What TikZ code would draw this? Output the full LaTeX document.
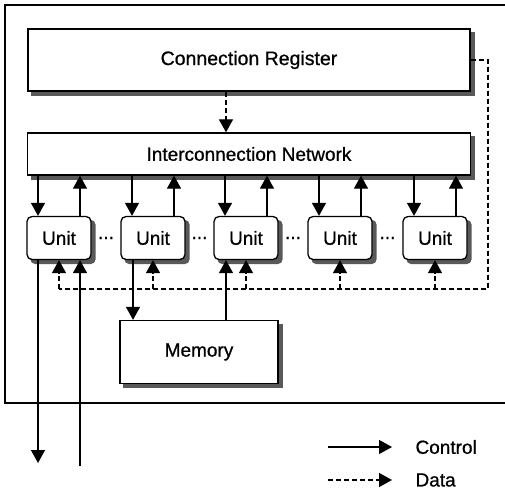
\documentclass[tikz,border=0pt]{standalone}
\usepackage{fontspec}
\setmainfont{Liberation Sans}[FakeBold=0.8]
\usepackage{tikz}
\usetikzlibrary{arrows.meta,backgrounds,calc,positioning}
\tikzstyle{box}  =[draw, line width=1.3pt, fill=white, inner sep=0pt]
\tikzstyle{unit} =[box, rounded corners=5pt, minimum width=64pt,
                   minimum height=43pt]
\tikzstyle{shade}=[fill=black!65]
\tikzstyle{ctrl} =[line width=1.3pt, -{Triangle[length=13pt,width=14pt]}]
\tikzstyle{data} =[ctrl, dash pattern=on 5pt off 3pt]
\tikzstyle{bus}  =[line width=1.3pt, dash pattern=on 5pt off 3pt]

\begin{document}
\begin{tikzpicture}[x=1pt,y=-1pt,font=\fontsize{19}{22}\selectfont]
    \useasboundingbox (0,0) rectangle (505,489);
    \draw [line width=1.3pt] (505,5) -- (5,5) -- (5,403) -- (505,403);

    \draw (249,60) node (cr) [box,minimum width=442pt,minimum height=62pt] {\fontsize{19.5}{22}\selectfont Connection Register};
    \draw (249,154) node (in) [box,minimum width=443pt,minimum height=42pt] {Interconnection Network};
    \draw (199,352) node (mem) [box,minimum width=158pt,minimum height=63pt] {Memory};

    \foreach \i/\x in {1/59,2/153,3/246,4/340,5/435}
        \draw (\x,238) node (u\i) [unit] {Unit};
    \foreach \i/\j in {1/2,2/3,3/4,4/5}
        \node (dots\i) at ($(u\i.east)!0.5!(u\j.west)$) {...};

    \begin{pgfonlayer}{background}
        \foreach \n in {cr,in,mem}
            \fill [shade] ([shift={(4pt,-4pt)}]\n.south west) rectangle ([shift={(4pt,-4pt)}]\n.north east);
        \foreach \i in {1,...,5}
            \fill [shade,rounded corners=5pt] ([shift={(4pt,-4pt)}]u\i.south west) rectangle ([shift={(4pt,-4pt)}]u\i.north east);
    \end{pgfonlayer}

    \draw [data] ([xshift=-23pt]cr.south) -- ([xshift=-23pt]cr.south |- in.north);

    \foreach \i in {1,...,5} {
        \draw [ctrl] ([xshift=-21pt]u\i.north |- in.south) -- ([xshift=-21pt]u\i.north);
        \draw [ctrl] ([xshift=21pt]u\i.north) -- ([xshift=21pt]u\i.north |- in.south);
    }

    \coordinate (busr) at (488,289);
    \draw [bus] (cr.east) -| (busr) -- (u1 |- busr);
    \foreach \i in {1,...,5}
        \draw [data] (u\i |- busr) -- (u\i.south);

    \draw [ctrl] ([xshift=-20pt]u2.south) -- ([xshift=-20pt]u2.south |- mem.north);
    \draw [ctrl] ([xshift=-20pt]u3.south |- mem.north) -- ([xshift=-20pt]u3.south);

    \coordinate (xout) at (38,463);
    \coordinate (xin) at (80,466);
    \draw [ctrl] (u1.south -| xout) -- (xout);
    \draw [ctrl] (xin) -- (u1.south -| xin);

    \coordinate (lc) at (328,447);
    \coordinate (ld) at (328,480);
    \node (lctrl) [anchor=west] at (412,447) {Control};
    \node (ldata) [anchor=west] at (412,480) {Data};
    \draw [ctrl] (lc) -- ([xshift=-20pt]lctrl.west);
    \draw [data] (ld) -- ([xshift=-20pt]ldata.west);
\end{tikzpicture}
\end{document}
